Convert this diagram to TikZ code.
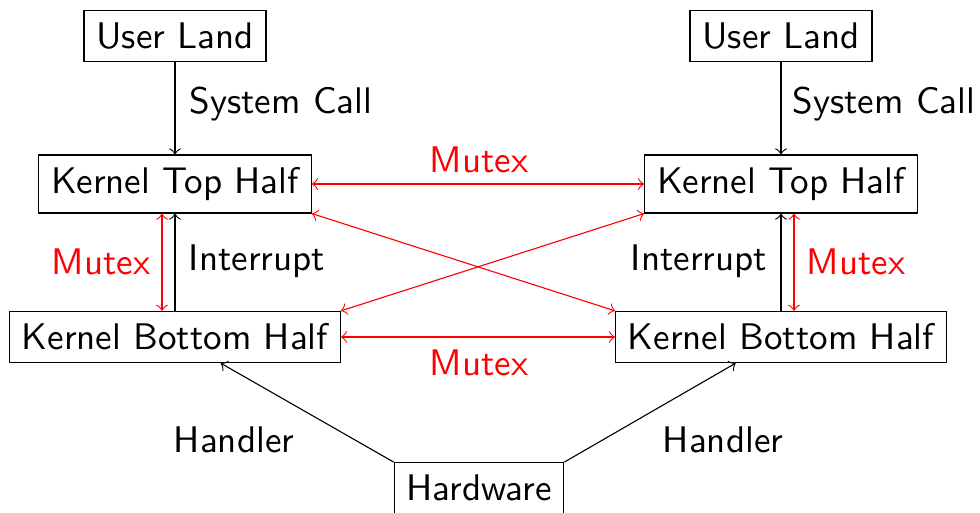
\documentclass[tikz,border=0pt]{standalone}
\usetikzlibrary{calc}
\begin{document}
\begin{tikzpicture}[x=0.27pt,y=-0.27pt,line width=0.3pt,
  box/.style={draw,font=\sffamily},
  lbl/.style={font=\sffamily},
  mlbl/.style={font=\sffamily,text=red},
  link/.style={->},
  mutexlink/.style={<->,red}]
\useasboundingbox (0,0) rectangle (980,512);
% boxes
\node[box] (ul1)  at (175,36)  {User Land};
\node[box] (kth1) at (175,184) {Kernel Top Half};
\node[box] (kbh1) at (175,337) {Kernel Bottom Half};
\node[box] (ul2)  at (781,36)  {User Land};
\node[box] (kth2) at (781,184) {Kernel Top Half};
\node[box] (kbh2) at (781,337) {Kernel Bottom Half};
\node[box] (hw)   at (479,488) {Hardware};
% system calls
\draw[link] (ul1) -- (kth1);
\draw[link] (ul2) -- (kth2);
\node[lbl] (sc1) at (281,104) {System Call};
\node[lbl] (sc2) at (884,104) {System Call};
% interrupts
\draw[link] (kbh1) -- (kth1);
\draw[link] (kbh2) -- (kth2);
\node[lbl] (ir1) at (257,261) {Interrupt};
\node[lbl] (ir2) at (699,261) {Interrupt};
% mutexes between halves
\draw[mutexlink] ($(kth1.south)+(-13,0)$) -- ($(kbh1.north)+(-13,0)$);
\draw[mutexlink] ($(kth2.south)+(13,0)$) -- ($(kbh2.north)+(13,0)$);
\node[mlbl] (mx1) at (101,262) {Mutex};
\node[mlbl] (mx2) at (856,262) {Mutex};
\draw[mutexlink] (kth1) -- (kth2);
\draw[mutexlink] (kbh1) -- (kbh2);
\node[mlbl] (mx3) at (479,160) {Mutex};
\node[mlbl] (mx4) at (479,363) {Mutex};
\draw[mutexlink] (kth1.south east) -- (kbh2.north west);
\draw[mutexlink] (kbh1.north east) -- (kth2.south west);
% hardware handlers
\draw[link] (hw.north west) -- (kbh1);
\draw[link] (hw.north east) -- (kbh2);
\node[lbl] (hd1) at (234,440) {Handler};
\node[lbl] (hd2) at (723,440) {Handler};
\end{tikzpicture}
\end{document}
